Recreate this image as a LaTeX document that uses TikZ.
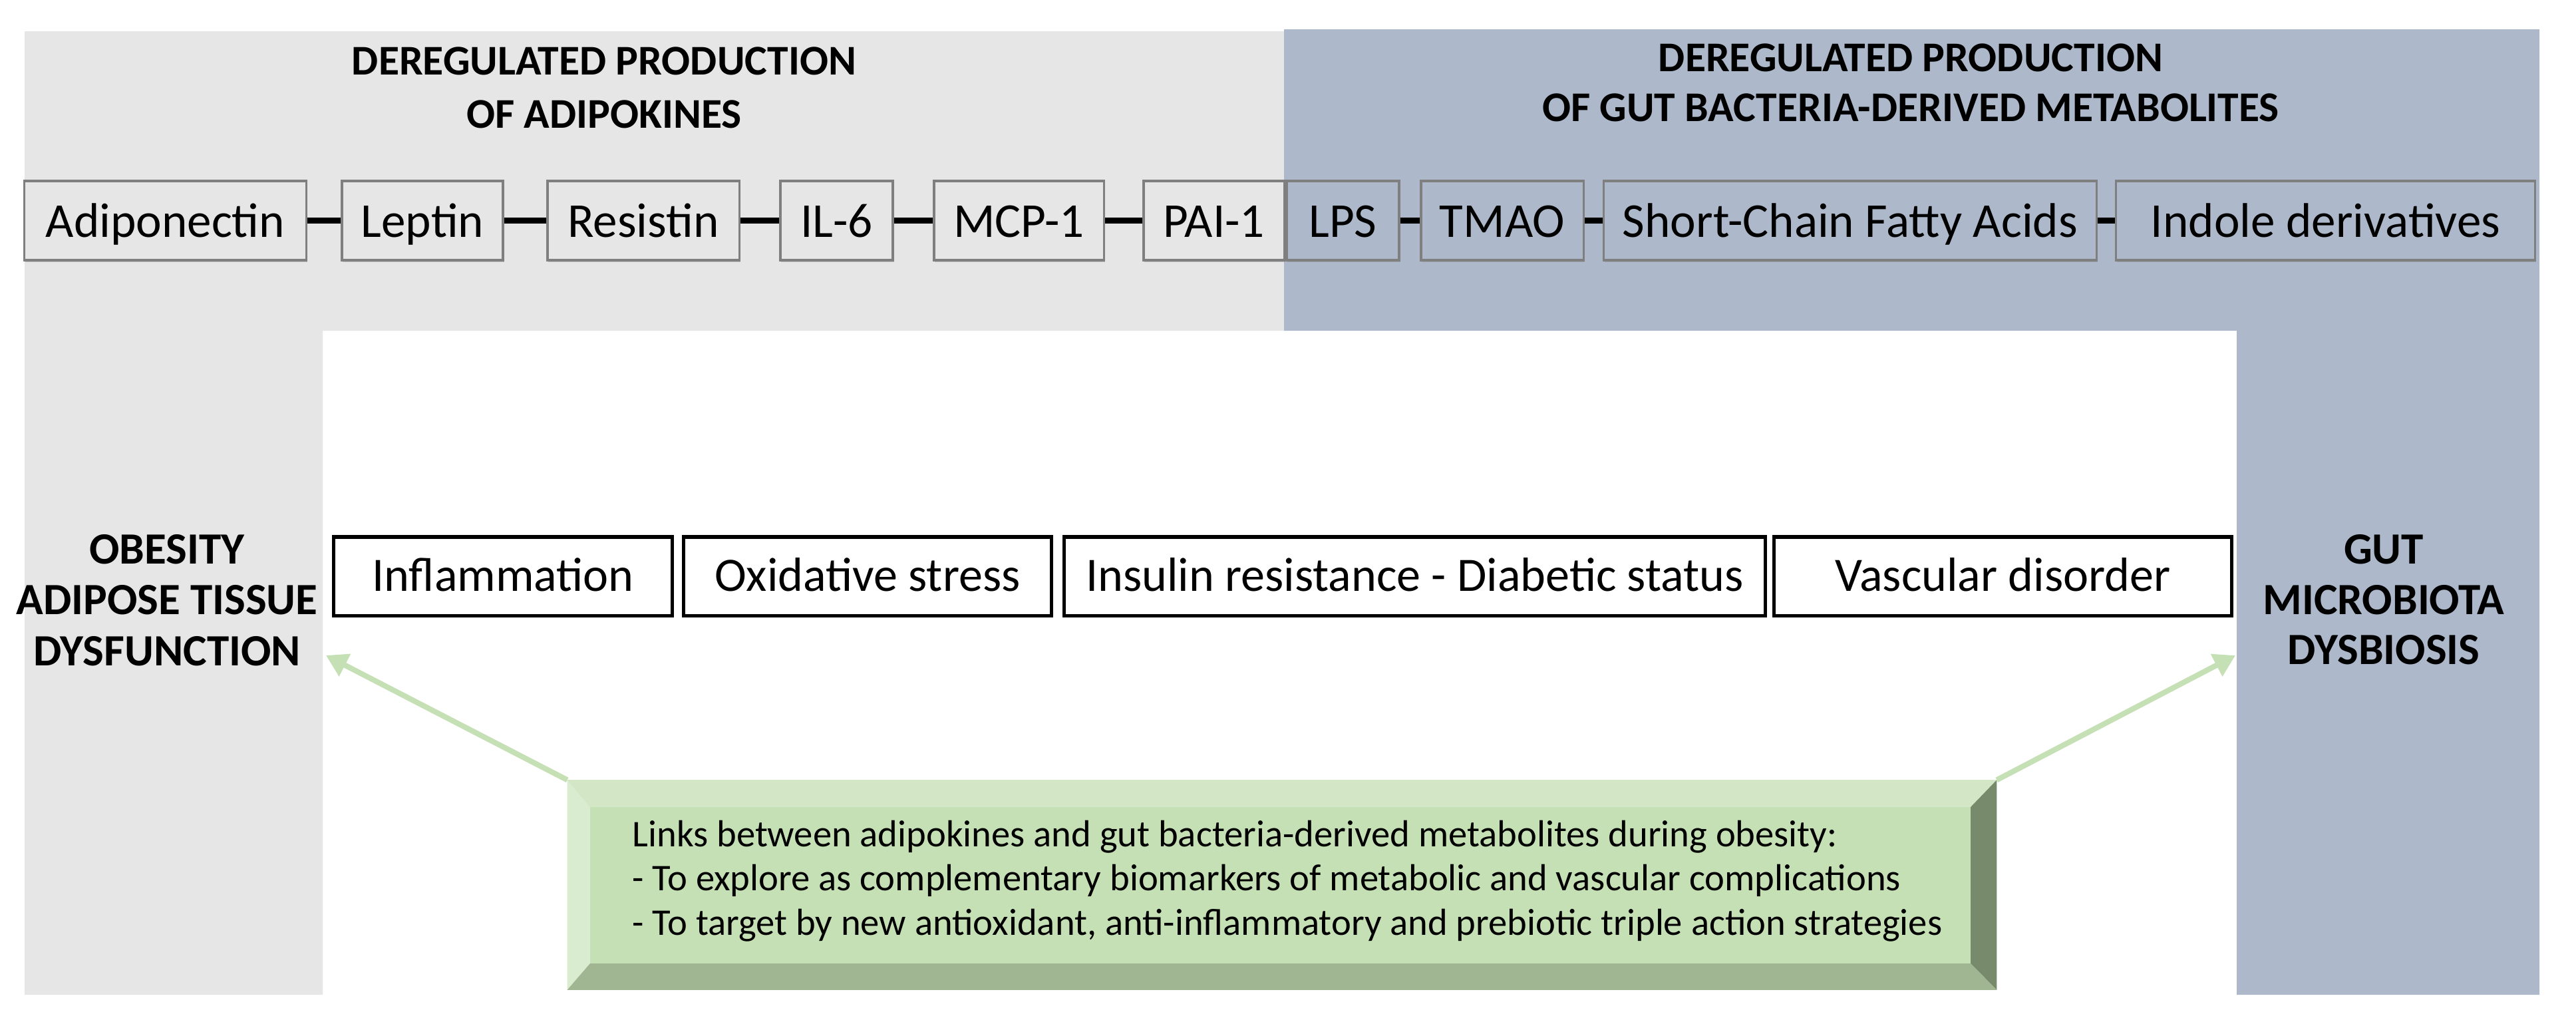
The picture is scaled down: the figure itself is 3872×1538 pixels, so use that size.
\documentclass[tikz,border=0pt]{standalone}
\usepackage{fontspec}
\setmainfont{Carlito}
\usetikzlibrary{arrows.meta,shadows}
\definecolor{graybg}{HTML}{E7E6E6}
\definecolor{bluebg}{HTML}{ADB9CA}
\definecolor{boxborder}{HTML}{7F7F7F}
\definecolor{gface}{HTML}{C5E0B4}
\definecolor{gtop}{HTML}{D3E7C6}
\definecolor{gleft}{HTML}{DAECCF}
\definecolor{gright}{HTML}{788A6C}
\definecolor{gbottom}{HTML}{A0B592}
\definecolor{garrowc}{HTML}{C5E0B4}
\begin{document}
\begin{tikzpicture}[x=0.01cm,y=-0.01cm,
  tbox/.style={draw=boxborder, line width=0.9pt, minimum height=1.19cm, inner sep=0pt,
    font=\fontsize{20.8pt}{25pt}\selectfont, text height=0.6cm, text depth=0.1cm,
    drop shadow={opacity=0.35, shadow xshift=0.015cm, shadow yshift=-0.025cm}},
  bbox/.style={draw=black, line width=1.45pt, fill=white, minimum height=1.18cm, inner sep=0pt,
    font=\fontsize{20.5pt}{24pt}\selectfont, text height=0.55cm, text depth=0.11cm,
    drop shadow={opacity=0.25, shadow xshift=0.01cm, shadow yshift=-0.02cm}},
  conn/.style={line width=2.6pt, black},
  ttl/.style={anchor=base, inner sep=0pt, font=\bfseries\fontsize{18.1pt}{21pt}\selectfont},
  side/.style={anchor=base, inner sep=0pt, font=\bfseries\fontsize{19.1pt}{22pt}\selectfont},
  gtext/.style={anchor=base west, inner sep=0pt, font=\fontsize{16.1pt}{19pt}\selectfont},
  garrow/.style={draw=garrowc, line width=2.3pt, -{Triangle[length=0.32cm,width=0.36cm]}},
]
\useasboundingbox (0,0) rectangle (3872,1538);
\fill[white] (0,0) rectangle (3872,1538);

% background regions
\fill[graybg] (37,47) -- (1930,47) -- (1930,497) -- (485,497) -- (485,1495) -- (37,1495) -- cycle;
\fill[bluebg] (1930,44) -- (3817,44) -- (3817,1495) -- (3362,1495) -- (3362,497) -- (1930,497) -- cycle;

% titles
\node[ttl] (t1a) at (908,112) {DEREGULATED PRODUCTION};
\node[ttl] (t1b) at (908,192) {OF ADIPOKINES};
\node[ttl] (t2a) at (2872,107) {DEREGULATED PRODUCTION};
\node[ttl] (t2b) at (2872,182) {OF GUT BACTERIA-DERIVED METABOLITES};

% top boxes
\node[tbox, fill=graybg, minimum width=4.23cm] (adip) at (248.5,331.5) {Adiponectin};
\node[tbox, fill=graybg, minimum width=2.42cm] (lep)  at (635,331.5) {Leptin};
\node[tbox, fill=graybg, minimum width=2.88cm] (res)  at (967,331.5) {Resistin};
\node[tbox, fill=graybg, minimum width=1.69cm] (il6)  at (1257.5,331.5) {IL-6};
\node[tbox, fill=graybg, minimum width=2.55cm] (mcp)  at (1531.5,331.5) {MCP-1};
\node[tbox, fill=graybg, minimum width=2.11cm] (pai)  at (1824.5,331.5) {PAI-1};
\node[tbox, fill=bluebg, minimum width=1.69cm] (lps)  at (2018.5,331.5) {LPS};
\node[tbox, fill=bluebg, minimum width=2.44cm] (tmao) at (2258,331.5) {TMAO};
\node[tbox, fill=bluebg, minimum width=7.40cm] (scfa) at (2781,331.5) {Short-Chain Fatty Acids};
\node[tbox, fill=bluebg, minimum width=6.29cm] (ind)  at (3495.5,331.5) {Indole derivatives};

\draw[conn] (adip) -- (lep);
\draw[conn] (lep) -- (res);
\draw[conn] (res) -- (il6);
\draw[conn] (il6) -- (mcp);
\draw[conn] (mcp) -- (pai);
\draw[conn] (lps) -- (tmao);
\draw[conn] (tmao) -- (scfa);
\draw[conn] (scfa) -- (ind);

% side labels
\node[side] (o1) at (251,847) {OBESITY};
\node[side] (o2) at (251,923) {ADIPOSE TISSUE};
\node[side] (o3) at (251,1000) {DYSFUNCTION};
\node[side] (g1) at (3583,847) {GUT};
\node[side] (g2) at (3583,923) {MICROBIOTA};
\node[side] (g3) at (3583,998) {DYSBIOSIS};

% bottom boxes
\node[bbox, minimum width=5.08cm]  (infl) at (756,866) {Inflammation};
\node[bbox, minimum width=5.52cm]  (oxi)  at (1304,866) {Oxidative stress};
\node[bbox, minimum width=10.53cm] (ins)  at (2126.5,866) {Insulin resistance - Diabetic status};
\node[bbox, minimum width=6.87cm]  (vas)  at (3010.5,866) {Vascular disorder};

% green bevelled box
\node[fill=gface, minimum width=21.46cm, minimum height=3.14cm, inner sep=0pt] (gb) at (1927,1330) {};
\coordinate (inw) at (887,1213);
\coordinate (ine) at (2962,1213);
\coordinate (ise) at (2962,1448);
\coordinate (isw) at (887,1448);
\fill[gtop] (gb.north west) -- (gb.north east) -- (ine) -- (inw) -- cycle;
\fill[gleft] (gb.north west) -- (inw) -- (isw) -- (gb.south west) -- cycle;
\fill[gright] (gb.north east) -- (gb.south east) -- (ise) -- (ine) -- cycle;
\fill[gbottom] (gb.south west) -- (isw) -- (ise) -- (gb.south east) -- cycle;

\node[gtext] (l1) at (950,1272) {Links between adipokines and gut bacteria-derived metabolites during obesity:};
\node[gtext] (l2) at (950,1338) {- To explore as complementary biomarkers of metabolic and vascular complications};
\node[gtext] (l3) at (950,1405) {- To target by new antioxidant, anti-inflammatory and prebiotic triple action strategies};

% arrows
\coordinate (aL) at (490,985);
\coordinate (aR) at (3360,985);
\draw[garrow] (gb.north west) -- (aL);
\draw[garrow] (gb.north east) -- (aR);
\end{tikzpicture}
\end{document}
